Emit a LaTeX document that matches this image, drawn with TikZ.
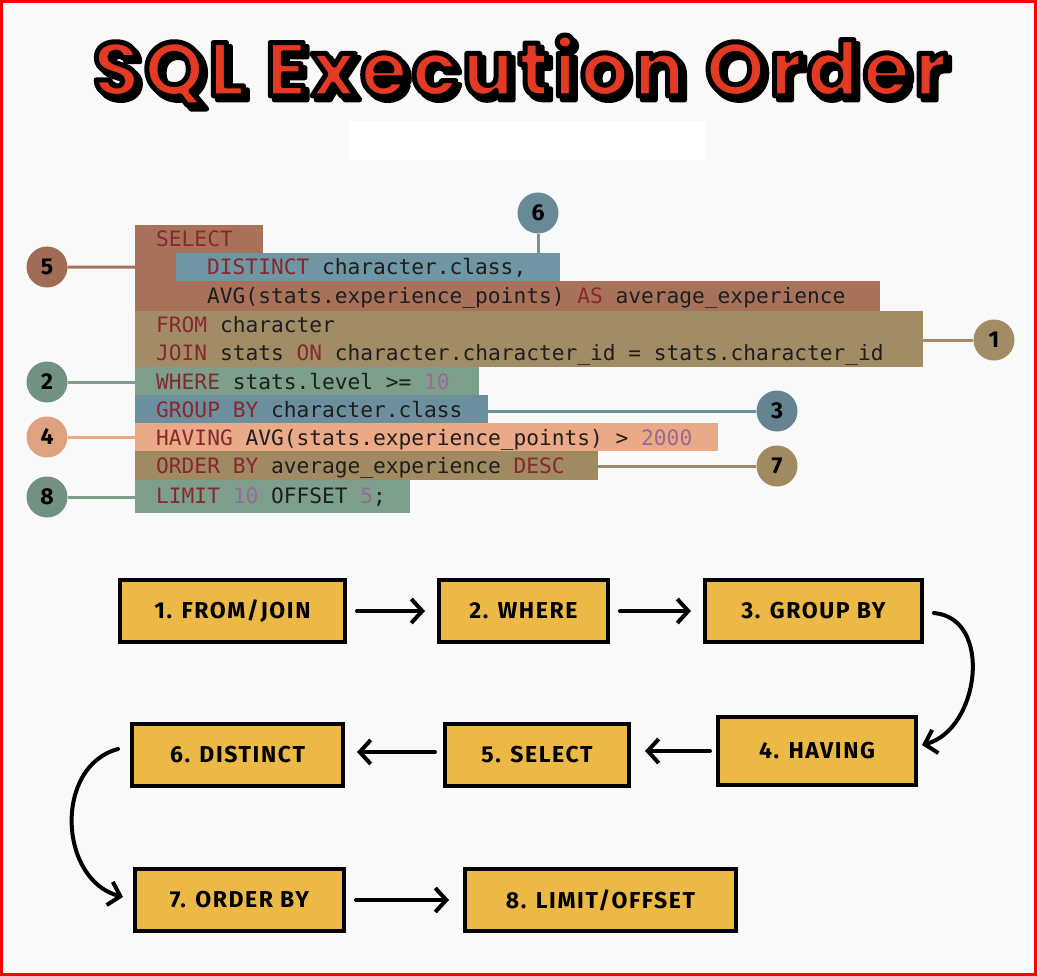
\documentclass[tikz,border=0pt]{standalone}
\usepackage{fontspec}
\setmonofont{DejaVu Sans Mono}
\newfontfamily\titlefont{Poppins}[LetterSpace=6]
\newfontfamily\boxfont{Fira Sans}
\newfontfamily\stepfont{Fira Sans}[LetterSpace=7]
\usepackage{xcolor}
\usepackage{tikz}
\usetikzlibrary{arrows.meta, calc}

\definecolor{bgcol}{RGB}{249,249,249}
\definecolor{titlered}{RGB}{228,58,36}
\definecolor{kwcol}{RGB}{135,40,45}
\definecolor{numcol}{RGB}{150,105,150}
\definecolor{txtcol}{RGB}{30,30,30}
\definecolor{selcol}{RGB}{168,114,90}
\definecolor{distcol}{RGB}{112,150,163}
\definecolor{fromcol}{RGB}{161,140,102}
\definecolor{wherecol}{RGB}{124,158,139}
\definecolor{groupcol}{RGB}{108,143,157}
\definecolor{havecol}{RGB}{234,170,136}
\definecolor{ordercol}{RGB}{160,138,98}
\definecolor{boxgold}{RGB}{236,184,70}

\newcommand{\kw}[1]{\textcolor{kwcol}{#1}}
\newcommand{\num}[1]{\textcolor{numcol}{#1}}
% outlined text: fill in the current colour, black stroke
\newcommand{\outlined}[2]{\special{pdf:literal direct 0 0 0 RG #1 w 1 j 2 Tr}#2\special{pdf:literal direct 0 Tr}}

\tikzset{
  titletext/.style={font=\titlefont\bfseries\fontsize{76}{80}\selectfont},
  codeblk/.style={rectangle, inner sep=0pt, anchor=north west},
  codeline/.style={anchor=base west, inner sep=0pt, text=txtcol,
    font=\ttfamily\fontsize{21.2}{24}\selectfont},
  marker/.style={circle, minimum size=41pt, inner sep=0pt, text=black,
    font=\boxfont\bfseries\fontsize{23}{23}\selectfont},
  lead/.style={line width=3pt},
  stepbox/.style={rectangle, draw=black, line width=4pt, fill=boxgold,
    anchor=north west, inner sep=0pt,
    font=\stepfont\bfseries\fontsize{23}{24}\selectfont},
  flowarrow/.style={line width=4pt, line cap=round,
    -{Straight Barb[length=11pt, width=24pt, line width=4pt]}}
}

\begin{document}
\begin{tikzpicture}[x=1pt, y=-1pt]
    % Page
    \fill[bgcol] (0,0) rectangle (1038,976);
    \useasboundingbox (0,0) rectangle (1038,976);
    \draw[red, line width=3pt] (1.5,1.5) rectangle (1035,974);

    % Title
    \node[titletext, text=black] (titleshadow) at (524,74) {\outlined{5}{SQL Execution Order}};
    \node[titletext, text=titlered] (title) at (520,70) {\outlined{5}{SQL Execution Order}};
    \fill[white] (349,121) rectangle (705,160);

    % Code blocks
    \node[codeblk, fill=selcol, minimum width=128pt, minimum height=28pt] (sel1) at (135,225) {};
    \node[codeblk, fill=selcol, minimum width=41pt, minimum height=28pt] (sel2) at (135,253) {};
    \node[codeblk, fill=selcol, minimum width=745pt, minimum height=30pt] (sel3) at (135,281) {};
    \node[codeblk, fill=distcol, minimum width=384pt, minimum height=28pt] (distblk) at (176,253) {};
    \node[codeblk, fill=fromcol, minimum width=788pt, minimum height=56pt] (fromblk) at (135,311) {};
    \node[codeblk, fill=wherecol, minimum width=344pt, minimum height=28pt] (whereblk) at (135,367) {};
    \node[codeblk, fill=groupcol, minimum width=353pt, minimum height=28pt] (groupblk) at (135,395) {};
    \node[codeblk, fill=havecol, minimum width=583pt, minimum height=28pt] (haveblk) at (135,423) {};
    \node[codeblk, fill=ordercol, minimum width=463pt, minimum height=29pt] (orderblk) at (135,451) {};
    \node[codeblk, fill=wherecol, minimum width=275pt, minimum height=33pt] (limitblk) at (135,480) {};

    % Code lines
    \node[codeline] (l1) at (156,247) {\kw{SELECT}};
    \node[codeline] (l2) at (207,275) {\kw{DISTINCT} character.class,};
    \node[codeline] (l3) at (207,303) {AVG(stats.experience\_points) \kw{AS} average\_experience};
    \node[codeline] (l4) at (156,332) {\kw{FROM} character};
    \node[codeline] (l5) at (156,360) {\kw{JOIN} stats \kw{ON} character.character\_id = stats.character\_id};
    \node[codeline] (l6) at (156,389) {\kw{WHERE} stats.level >= \num{10}};
    \node[codeline] (l7) at (156,417) {\kw{GROUP BY} character.class};
    \node[codeline] (l8) at (156,445) {\kw{HAVING} AVG(stats.experience\_points) > \num{2000}};
    \node[codeline] (l9) at (156,473) {\kw{ORDER BY} average\_experience \kw{DESC}};
    \node[codeline] (l10) at (156,503) {\kw{LIMIT} \num{10} OFFSET \num{5};};

    % Markers
    \node[marker, fill=selcol!95!black] (m5) at (47,267) {5};
    \node[marker, fill=distcol!92!black] (m6) at (538,213) {6};
    \node[marker, fill=fromcol] (m1) at (994,340) {1};
    \node[marker, fill=wherecol!92!black] (m2) at (47,382) {2};
    \node[marker, fill=groupcol!92!black] (m3) at (777,411) {3};
    \node[marker, fill=havecol!95!black] (m4) at (47,437) {4};
    \node[marker, fill=ordercol] (m7) at (777,466) {7};
    \node[marker, fill=wherecol!92!black] (m8) at (47,497) {8};

    \draw[lead, selcol] (m5) -- (sel2.west);
    \draw[lead, distcol] (m6) -- (m6 |- distblk.north);
    \draw[lead, fromcol] (m1) -- (m1 -| fromblk.east);
    \draw[lead, wherecol] (m2) -- (m2 -| whereblk.west);
    \draw[lead, groupcol] (m3) -- (m3 -| groupblk.east);
    \draw[lead, havecol] (m4) -- (m4 -| haveblk.west);
    \draw[lead, ordercol] (m7) -- (m7 -| orderblk.east);
    \draw[lead, wherecol] (m8) -- (m8 -| limitblk.west);

    % Execution order
    \node[stepbox, minimum width=225pt, minimum height=62pt] (s1) at (118,578) {1. FROM/JOIN};
    \node[stepbox, minimum width=169pt, minimum height=62pt] (s2) at (437,578) {2. WHERE};
    \node[stepbox, minimum width=217pt, minimum height=62pt] (s3) at (703,578) {3. GROUP BY};
    \node[stepbox, minimum width=198pt, minimum height=68pt] (s4) at (716,715) {4. HAVING};
    \node[stepbox, minimum width=184pt, minimum height=62pt] (s5) at (443,722) {5. SELECT};
    \node[stepbox, minimum width=211pt, minimum height=62pt] (s6) at (130,722) {6. DISTINCT};
    \node[stepbox, minimum width=209pt, minimum height=62pt] (s7) at (133,867) {7. ORDER BY};
    \node[stepbox, minimum width=271pt, minimum height=62pt] (s8) at (463,867) {8. LIMIT/OFFSET};

    \draw[flowarrow] ([xshift=10pt]s1.east) -- ([xshift=-12pt]s2.west);
    \draw[flowarrow] ([xshift=10pt]s2.east) -- ([xshift=-12pt]s3.west);
    \draw[flowarrow] ([xshift=10pt, yshift=-2pt]s3.east) to[out=-5, in=15, looseness=1.15] ([xshift=4pt, yshift=6pt]s4.east);
    \draw[flowarrow] ([xshift=-6pt]s4.west) -- ([xshift=14pt]s4.west -| s5.east);
    \draw[flowarrow] ([xshift=-8pt, yshift=3pt]s5.west) -- ([xshift=12pt, yshift=3pt]s6.east);
    \draw[flowarrow] ([xshift=-12pt, yshift=6pt]s6.west) to[out=195, in=165, looseness=1.15] ([xshift=-10pt, yshift=3pt]s7.west);
    \draw[flowarrow] ([xshift=10pt]s7.east) -- ([xshift=-14pt]s8.west);
\end{tikzpicture}
\end{document}
